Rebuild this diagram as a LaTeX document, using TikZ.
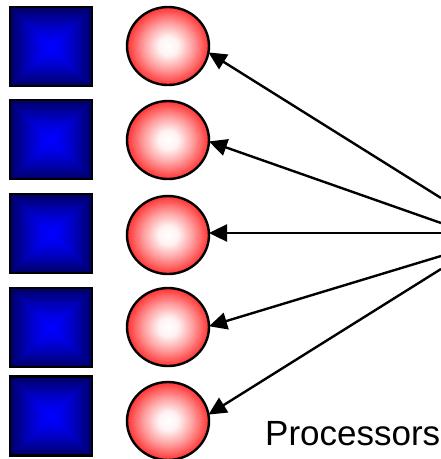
\documentclass[tikz,border=0pt]{standalone}
\usepackage{fontspec}
\setmainfont{Liberation Sans}
\usetikzlibrary{arrows.meta,shapes.geometric}
\pgfdeclarefunctionalshading{bluebox}{\pgfpoint{0bp}{0bp}}{\pgfpoint{100bp}{100bp}}{}{50 sub abs exch 50 sub abs 2 copy lt {exch} if pop 25 div dup 1 gt {pop 1} if dup sqrt mul 0.62 mul 1 exch sub 0 exch 0 exch}
\pgfdeclareradialshading{redball}{\pgfpoint{0bp}{0bp}}{rgb(0bp)=(1,1,1);rgb(6bp)=(1,0.95,0.95);rgb(15bp)=(1,0.62,0.62);rgb(25bp)=(1,0.2,0.2);rgb(50bp)=(1,0.2,0.2)}
\begin{document}
\begin{tikzpicture}[x=1pt,y=-1pt,
  cpu/.style={draw=black,line width=2.4pt,rectangle,minimum width=82pt,minimum height=79pt,inner sep=0pt,outer sep=0pt,shading=bluebox},
  ball/.style={draw=black,line width=2.4pt,ellipse,minimum width=82pt,minimum height=78pt,inner sep=0pt,outer sep=0pt,shading=redball},
  link/.style={line width=2.4pt,-{Triangle[length=18pt,width=17pt]}},
  lbl/.style={inner sep=0pt,anchor=base west,font=\fontsize{35}{37}\selectfont}]
\useasboundingbox (0,0) rectangle (441,459);
\node[cpu] (s1) at (51,46.5) {};
\node[cpu] (s2) at (51,139.5) {};
\node[cpu] (s3) at (51,233.5) {};
\node[cpu] (s4) at (51,327.5) {};
\node[cpu] (s5) at (51,416) {};
\node[ball] (c1) at (168,46) {};
\node[ball] (c2) at (168,140) {};
\node[ball] (c3) at (168,235) {};
\node[ball] (c4) at (168,327) {};
\node[ball] (c5) at (168,421) {};
\coordinate (e1) at (441,198);
\coordinate (e2) at (441,223);
\coordinate (e3) at (441,233);
\coordinate (e4) at (441,256);
\coordinate (e5) at (441,269);
\draw[link] (e1) -- (c1.-9);
\draw[link] (e2) -- (c2.-2);
\draw[link] (e3) -- (c3.east |- e3);
\draw[link] (e4) -- (c4.1);
\draw[link] (e5) -- (c5.9);
\node[lbl] (t) at (265,445) {Processors};
\end{tikzpicture}
\end{document}
